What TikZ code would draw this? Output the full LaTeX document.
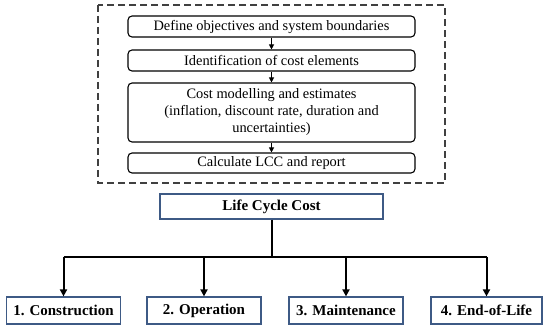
\documentclass[tikz,border=0pt]{standalone}
\usepackage{fontspec}
\setmainfont{Liberation Serif}
\usetikzlibrary{arrows.meta}
\definecolor{lcc-blue}{HTML}{3E5A85}

\begin{document}
\begin{tikzpicture}[x=1pt, y=1pt,
      every node/.style={font=\fontsize{14.4}{17}\selectfont},
      stage/.style={draw, line width=1.1pt, rounded corners=4pt, minimum width=287pt,
        align=center, inner sep=1pt},
      branch/.style={draw=lcc-blue, line width=1.2pt, minimum width=114pt,
        minimum height=27pt, font=\fontsize{15}{17}\selectfont\bfseries},
      link/.style={line width=1.1pt, -{Triangle[length=5pt, width=5pt]}},
      feed/.style={line width=2pt, -{Triangle[length=7pt, width=7pt]}}]
    \useasboundingbox (0,0) rectangle (550,326);
    % LCC procedure
    \draw[line width=1.4pt, dash pattern=on 7pt off 4pt, black!75]
          (98,321) rectangle (445,143);
    \node[stage, minimum height=21pt] (objectives) at (271.5,299.5)
          {Define objectives and system boundaries};
    \node[stage, minimum height=21pt] (elements) at (271.5,265.5)
          {Identification of cost elements};
    \node[stage, minimum height=59pt] (modelling) at (271.5,213.5)
          {Cost modelling and estimates\\(inflation, discount rate, duration and\\uncertainties)};
    \node[stage, minimum height=20pt] (report) at (271.5,163)
          {Calculate LCC and report};
    \draw[link] (objectives) -- (elements);
    \draw[link] (elements) -- (modelling);
    \draw[link] (modelling) -- (report);
    % cost breakdown
    \node[draw=lcc-blue, line width=1.2pt, minimum width=223pt, minimum height=25pt,
          font=\fontsize{15}{17}\selectfont\bfseries] (lcc) at (271.5,119.5)
          {Life Cycle Cost};
    \node[branch] (construction) at (63.5,15.5) {1. Construction};
    \node[branch] (operation) at (204,15.5) {2. Operation};
    \node[branch] (maintenance) at (346,15.5) {3. Maintenance};
    \node[branch, minimum width=111pt] (endoflife) at (486.5,15.5) {4. End-of-Life};
    \coordinate (hub) at (271.5,69);
    \draw[line width=2pt] (lcc.south) -- (hub);
    \draw[line width=2pt] (construction.north |- hub) -- (endoflife.north |- hub);
    \foreach \b in {construction, operation, maintenance, endoflife}
      \draw[feed] (\b.north |- hub) -- (\b.north);
  \end{tikzpicture}
\end{document}
